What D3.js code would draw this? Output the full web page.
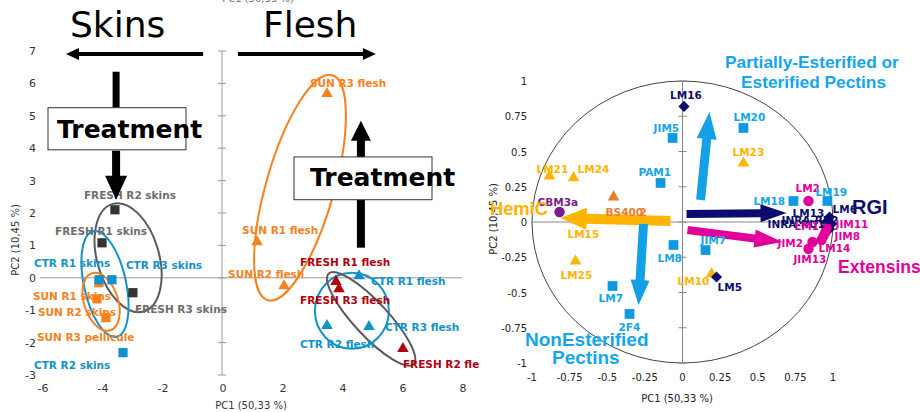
<!DOCTYPE html>
<html><head><meta charset="utf-8">
<script src="https://cdn.jsdelivr.net/npm/d3@7"></script>
<style>body{margin:0;background:#fff} svg{display:block}</style>
</head><body><svg id="c" width="920" height="412"></svg>
<script>
// ---------------- LEFT PANEL: PCA scores ----------------
const leftLabels = ["FRESH R2 skins","FRESH R1 skins","FRESH R3 skins","SUN R3 pellicule","CTR R1 skins","CTR R3 skins","SUN R1 skins","SUN R2 skins","CTR R2 skins",
  "SUN R3 flesh","SUN R1 flesh","SUN R2 flesh","FRESH R1 flesh","FRESH R3 flesh","CTR R1 flesh","CTR R3 flesh","CTR R2 flesh","FRESH R2 flesh"];
const leftPC1 = [-3.57,-4.0,-2.97,-4.1,-4.1,-3.67,-4.17,-3.87,-3.3, 3.5,1.17,2.07,3.8,3.9,4.57,4.9,3.5,6.03];
const leftPC2 = [2.10,1.08,-0.46,-0.15,-0.06,-0.06,-0.65,-1.23,-2.31, 5.68,1.11,-0.25,-0.12,-0.34,0.06,-1.51,-1.48,-2.19];
const leftTreatment = ["FRESH","FRESH","FRESH","SUN","CTR","CTR","SUN","SUN","CTR","SUN","SUN","SUN","FRESH","FRESH","CTR","CTR","CTR","FRESH"];
const leftTissue = ["skins","skins","skins","skins","skins","skins","skins","skins","skins","flesh","flesh","flesh","flesh","flesh","flesh","flesh","flesh","flesh"];
const leftXTicks = [-6,-4,-2,0,2,4,6,8];
const leftYTicks = [-3,-2,-1,0,1,2,3,4,5,6,7];
// label placement (px offsets from the point)
const leftLabelDX = [-31,-47,2,-62,-65,14,-64,-68,-89, -17,-15,-56,-36,-39,12,16,-27,0];
const leftLabelDY = [-11,-8,20,58,-13,-11,1,-2,16, -7,-8,-8,-16,15,9,4,22,19];

// ---------------- RIGHT PANEL: correlation circle ----------------
const rightLabels = ["LM16","LM20","JIM5","LM23","PAM1","LM21","LM24","BS400","CBM3a","LM15","LM25","LM8","JIM7","LM10","LM5","LM7","2F4",
  "LM18","LM2","LM19","LM6","LM13","INRA-RU2","INRA-RU1","LM1","JIM11","JIM8","LM14","JIM2","JIM13"];
const rightPC1 = [0.01,0.405,-0.066,0.405,-0.146,-0.884,-0.724,-0.458,-0.817,-0.711,-0.711,-0.06,0.153,0.193,0.226,-0.465,-0.352,
  0.737,0.837,0.963,0.977,0.957,0.99,0.977,0.957,0.95,0.937,0.924,0.864,0.837];
const rightPC2 = [0.82,0.667,0.596,0.418,0.277,0.326,0.312,0.177,0.071,0.014,-0.277,-0.163,-0.199,-0.369,-0.39,-0.454,-0.652,
  0.149,0.149,0.149,0.035,0.0,-0.014,-0.05,-0.043,-0.071,-0.099,-0.128,-0.142,-0.19];
const rightFamily = ["rg","pec","pec","hem","pec","hem","hem","cal","cel","hem","hem","pec","pec","hem","rg","pec","pec",
  "pec","ext","pec","rg","rg","rg","rg","ext","ext","ext","ext","ext","ext"];
const rightTicks = [-1,-0.75,-0.5,-0.25,0,0.25,0.5,0.75,1];
const rightLabelDX = [-14,-10,-19,-11,-22,-13,4,-8,-22,-8,-15,-16,-5,-34,1,-14,-11, -40,-13,-12,3,-34,-50,-62,-32,10,11,-3,-35,-15];
const rightLabelDY = [-7,-7,-6,-7,-7,-3,-5,19,-6,18,18,17,-6,11,14,16,17, 4,-9,-5,-4,-5,0,-1,2,-4,4,12,5,14];

// group arrows (loadings directions)
const arrowNames = ["RGI","Extensins","HemiC","Esterified","NonEsterified"];
const arrowX0 = [0.027,0.033,-0.08,0.12,-0.259];
const arrowY0 = [0.057,-0.057,0.007,0.156,-0.014];
const arrowX1 = [0.691,0.664,-0.81,0.179,-0.292];
const arrowY1 = [0.064,-0.142,0.028,0.78,-0.589];

// ---------------- drawing ----------------
const svg = d3.select("#c");
const defs = svg.append("defs");
defs.append("clipPath").attr("id","clipL").append("rect").attr("x",0).attr("y",0).attr("width",479).attr("height",412);

const FONT = "'DejaVu Sans', Verdana, sans-serif";
const AR = "'Liberation Sans', Arial, sans-serif";

function arrowPoly(x1,y1,x2,y2,sw,hl,hw){
  const dx=x2-x1, dy=y2-y1, L=Math.hypot(dx,dy), ux=dx/L, uy=dy/L, nx=-uy, ny=ux;
  const bx=x2-ux*hl, by=y2-uy*hl;
  const p=[[x1+nx*sw/2,y1+ny*sw/2],[bx+nx*sw/2,by+ny*sw/2],[bx+nx*hw/2,by+ny*hw/2],[x2,y2],
           [bx-nx*hw/2,by-ny*hw/2],[bx-nx*sw/2,by-ny*sw/2],[x1-nx*sw/2,y1-ny*sw/2]];
  return p.map(d=>d.join(",")).join(" ");
}

// ===== LEFT =====
const xL = d3.scaleLinear().domain([-6,8]).range([42,462]);
const yL = d3.scaleLinear().domain([-3,7]).range([375,51]);
const gL = svg.append("g").attr("clip-path","url(#clipL)");

// cut-off title at very top
gL.append("text").attr("x",258).attr("y",2).attr("text-anchor","middle").attr("font-family",FONT)
  .attr("font-size",10).attr("fill","#777").text("PC1 (50,33 %)");

// axes
gL.append("line").attr("x1",40).attr("x2",xL(8)).attr("y1",yL(0)).attr("y2",yL(0)).attr("stroke","#9a9a9a").attr("stroke-width",1);
gL.append("line").attr("x1",xL(0)).attr("x2",xL(0)).attr("y1",yL(7)).attr("y2",yL(-3)).attr("stroke","#9a9a9a").attr("stroke-width",1);
gL.selectAll(".ytk").data(leftYTicks).join("line").attr("x1",xL(0)-4).attr("x2",xL(0)+4)
  .attr("y1",d=>yL(d)).attr("y2",d=>yL(d)).attr("stroke","#9a9a9a");
gL.selectAll(".ylab").data(leftYTicks).join("text").attr("x",36).attr("y",d=>yL(d)+4)
  .attr("text-anchor","end").attr("font-family",FONT).attr("font-size",11).attr("fill","#333").text(d=>String(d));
gL.selectAll(".xlab").data(leftXTicks).join("text").attr("x",d=>xL(d)+1).attr("y",392)
  .attr("text-anchor","middle").attr("font-family",FONT).attr("font-size",11).attr("fill","#333").text(d=>String(d));
gL.append("text").attr("x",251).attr("y",409).attr("text-anchor","middle").attr("font-family",FONT)
  .attr("font-size",10).attr("fill","#333").text("PC1 (50,33 %)");
gL.append("text").attr("transform","translate(19,240) rotate(-90)").attr("text-anchor","middle").attr("font-family",FONT)
  .attr("font-size",10).attr("fill","#333").text("PC2 (10,45 %)");

// ellipses (center in data units, radii in px, rotation in degrees)
const ellCx=[2.6,-3.13,-3.9,-4.03,4.33,4.97], ellCy=[2.78,0.62,-0.19,-0.74,-1.02,-1.27];
const ellRx=[117,56,54,30,37,62], ellRy=[34,31,21,17,38,17], ellRot=[-74,74,77.6,72,0,47];
const ellCol=["#F5821F","#5a5a5a","#1192C8","#F5821F","#1192C8","#5a5a5a"];
gL.selectAll(".ell").data(d3.range(ellCx.length)).join("ellipse")
  .attr("transform",i=>`translate(${xL(ellCx[i])},${yL(ellCy[i])}) rotate(${ellRot[i]})`)
  .attr("rx",i=>ellRx[i]).attr("ry",i=>ellRy[i]).attr("fill","none").attr("stroke",i=>ellCol[i]).attr("stroke-width",2);

const markCol = (t,s)=> t==="FRESH" ? (s==="skins"?"#333333":"#B0000E") : t==="CTR" ? "#1192C8" : "#F5821F";
const labCol = (t,s)=> t==="FRESH" ? (s==="skins"?"#6e6e6e":"#B0000E") : t==="CTR" ? "#1192C8" : "#F5821F";
const idxL = d3.range(leftLabels.length);
// draw SUN R3 pellicule first so it sits under CTR R1
const orderL = [3,0,1,2,4,5,6,7,8,9,10,11,12,13,14,15,16,17];
gL.selectAll(".pt").data(orderL).join("path")
  .attr("transform",i=>`translate(${xL(leftPC1[i])},${yL(leftPC2[i])})`)
  .attr("d",i=>d3.symbol().type(leftTissue[i]==="skins"?d3.symbolSquare:d3.symbolTriangle).size(leftTissue[i]==="skins"?85:58)())
  .attr("fill",i=>markCol(leftTreatment[i],leftTissue[i]));
gL.selectAll(".lb").data(idxL).join("text")
  .attr("x",i=>xL(leftPC1[i])+leftLabelDX[i]).attr("y",i=>yL(leftPC2[i])+leftLabelDY[i])
  .attr("font-family",FONT).attr("font-weight","bold").attr("font-size",10.5)
  .attr("fill",i=>labCol(leftTreatment[i],leftTissue[i])).text(i=>leftLabels[i]);

// annotations: Skins / Flesh arrows, Treatment boxes
gL.append("text").attr("x",70).attr("y",37).attr("font-family",FONT).attr("font-size",36).attr("fill","#000").text("Skins");
gL.append("text").attr("x",263).attr("y",37).attr("font-family",FONT).attr("font-size",36).attr("fill","#000").text("Flesh");
gL.append("polygon").attr("points",arrowPoly(xL(-0.63),yL(6.91),xL(-5.2),yL(6.91),4,13,12)).attr("fill","#000");
gL.append("polygon").attr("points",arrowPoly(xL(0.53),yL(6.91),xL(5.13),yL(6.91),4,13,12)).attr("fill","#000");
// treatment (skins)
gL.append("rect").attr("x",xL(-3.53)-3.5).attr("y",yL(6.36)).attr("width",7).attr("height",yL(5.25)-yL(6.36)).attr("fill","#000");
gL.append("polygon").attr("points",arrowPoly(xL(-3.53),yL(3.92),xL(-3.53),yL(2.41),8,24,22)).attr("fill","#000");
gL.append("rect").attr("x",xL(-5.8)).attr("y",yL(5.25)).attr("width",xL(-1.2)-xL(-5.8)).attr("height",yL(3.95)-yL(5.25))
  .attr("fill","#fff").attr("stroke","#333").attr("stroke-width",1);
gL.append("text").attr("x",57).attr("y",138).attr("font-family",FONT).attr("font-weight","bold").attr("font-size",25).attr("fill","#000").text("Treatment");
// treatment (flesh)
gL.append("rect").attr("x",xL(4.63)-4).attr("y",yL(2.41)).attr("width",8).attr("height",yL(0.93)-yL(2.41)).attr("fill","#000");
gL.append("polygon").attr("points",arrowPoly(xL(4.63),yL(3.73),xL(4.63),yL(4.85),8,20,20)).attr("fill","#000");
gL.append("rect").attr("x",xL(2.4)).attr("y",yL(3.73)).attr("width",xL(7.0)-xL(2.4)).attr("height",yL(2.41)-yL(3.73))
  .attr("fill","#fff").attr("stroke","#333").attr("stroke-width",1);
gL.append("text").attr("x",310).attr("y",186).attr("font-family",FONT).attr("font-weight","bold").attr("font-size",25).attr("fill","#000").text("Treatment");

// ===== RIGHT =====
const xR = d3.scaleLinear().domain([-1,1]).range([532,833]);
const yR = d3.scaleLinear().domain([-1,1]).range([363,81]);
const gR = svg.append("g");
gR.append("ellipse").attr("cx",xR(0)).attr("cy",yR(0)).attr("rx",xR(1)-xR(0)).attr("ry",yR(0)-yR(1))
  .attr("fill","none").attr("stroke","#444").attr("stroke-width",1);
gR.append("line").attr("x1",xR(-1)).attr("x2",xR(1)).attr("y1",yR(0)).attr("y2",yR(0)).attr("stroke","#888");
gR.append("line").attr("x1",xR(0)).attr("x2",xR(0)).attr("y1",yR(1)).attr("y2",yR(-1)).attr("stroke","#888");
gR.selectAll(".tk").data(rightTicks).join("line").attr("x1",xR(0)-4).attr("x2",xR(0)+4)
  .attr("y1",d=>yR(d)).attr("y2",d=>yR(d)).attr("stroke","#888");
gR.selectAll(".yl").data(rightTicks).join("text").attr("x",527).attr("y",d=>yR(d)+4).attr("text-anchor","end")
  .attr("font-family",FONT).attr("font-size",10).attr("fill","#222").text(d=>String(d));
gR.selectAll(".xl").data(rightTicks).join("text").attr("x",d=>xR(d)).attr("y",381).attr("text-anchor","middle")
  .attr("font-family",FONT).attr("font-size",10).attr("fill","#222").text(d=>String(d));
gR.append("text").attr("x",677).attr("y",402).attr("text-anchor","middle").attr("font-family",FONT)
  .attr("font-size",10).attr("fill","#222").text("PC1 (50,33 %)");
gR.append("text").attr("transform","translate(497,219) rotate(-90)").attr("text-anchor","middle").attr("font-family",FONT)
  .attr("font-size",10).attr("fill","#222").text("PC2 (10,45 %)");

const famMark = {rg:"#0D0C6E",pec:"#0E9AE0",hem:"#FFB400",cal:"#F07A2E",cel:"#7B1C8E",ext:"#E2009B"};
const famLab = {rg:"#0D0C6E",pec:"#14A5EE",hem:"#FFB400",cal:"#F07A2E",cel:"#7B1C8E",ext:"#E2009B"};
const famSym = {rg:"diamond",pec:"square",hem:"triangle",cal:"triangle",cel:"circle",ext:"circle"};
const idxR = d3.range(rightLabels.length);
function symPath(f){
  const s=famSym[f];
  if(s==="square") return d3.symbol().type(d3.symbolSquare).size(95)();
  if(s==="diamond") return d3.symbol().type(d3.symbolSquare).size(62)();
  if(s==="triangle") return d3.symbol().type(d3.symbolTriangle).size(58)();
  return d3.symbol().type(d3.symbolCircle).size(85)();
}
gR.selectAll(".rp").data(idxR).join("path")
  .attr("transform",i=>`translate(${xR(rightPC1[i])},${yR(rightPC2[i])})`+(famSym[rightFamily[i]]==="diamond"?" rotate(45)":""))
  .attr("d",i=>symPath(rightFamily[i])).attr("fill",i=>famMark[rightFamily[i]]);

// big loading arrows
const arrCol=["#0D0C6E","#E2009B","#FFB400","#14A0E6","#14A0E6"];
const arrSW=[8,8,10,9,9], arrHL=[26,28,26,27,25], arrHW=[18,18,22,20,19];
gR.selectAll(".ar").data(d3.range(arrowNames.length)).join("polygon")
  .attr("points",i=>arrowPoly(xR(arrowX0[i]),yR(arrowY0[i]),xR(arrowX1[i]),yR(arrowY1[i]),arrSW[i],arrHL[i],arrHW[i]))
  .attr("fill",i=>arrCol[i]);

gR.selectAll(".rl").data(idxR).join("text")
  .attr("x",i=>xR(rightPC1[i])+rightLabelDX[i]).attr("y",i=>yR(rightPC2[i])+rightLabelDY[i])
  .attr("font-family",FONT).attr("font-weight","bold").attr("font-size",10.5)
  .attr("fill",i=>famLab[rightFamily[i]]).text(i=>rightLabels[i]);
// overlapping "2" on BS400 label as in the source
gR.append("text").attr("x",xR(rightPC1[7])+26).attr("y",yR(rightPC2[7])+19).attr("font-family",FONT)
  .attr("font-weight","bold").attr("font-size",10.5).attr("fill","#F07A2E").text("2");

// group titles
const big = (x,y,size,col,t)=>gR.append("text").attr("x",x).attr("y",y).attr("font-family",AR).attr("font-weight","bold")
  .attr("font-size",size).attr("fill",col).text(t);
big(725,68,17.3,"#14A5EE","Partially-Esterified or");
big(741,88,17.3,"#14A5EE","Esterified Pectins");
big(852,214,20,"#0D0C6E","RGI");
big(838,273,17.5,"#E2009B","Extensins");
big(490,215,18.3,"#FFB400","HemiC");
big(525,346,19,"#14A5EE","NonEsterified");
big(552,364,19,"#14A5EE","Pectins");
</script></body></html>
